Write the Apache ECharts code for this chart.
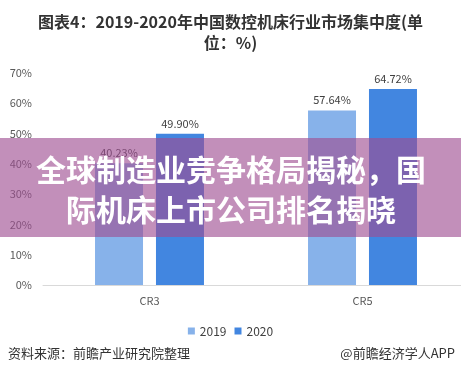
<!DOCTYPE html>
<html>
<head>
<meta charset="utf-8">
<script src="https://cdn.jsdelivr.net/npm/echarts@6/dist/echarts.min.js"></script>
<style>
  html, body { margin: 0; padding: 0; background: #fff; }
  #chart { width: 461px; height: 376px; }
</style>
</head>
<body>
<div id="chart"></div>
<script>
// ---- data ----
const categories = ["CR3", "CR5"];
const seriesNames = ["2019", "2020"];
const values2019 = [40.23, 57.64];
const values2020 = [49.90, 64.72];
const yTicks = [0, 10, 20, 30, 40, 50, 60, 70];

const FONT = "'Noto Sans CJK SC', 'Noto Sans', sans-serif";

document.addEventListener("DOMContentLoaded", () => {
  const chart = echarts.init(document.getElementById("chart"));

  const labelStyle = {
    show: true,
    position: "top",
    distance: 5,
    color: "#404040",
    fontSize: 11,
    fontFamily: FONT,
    formatter: p => p.value.toFixed(2) + "%"
  };

  const option = {
    animation: false,
    backgroundColor: "#fff",
    title: {
      text: "图表4：2019-2020年中国数控机床行业市场集中度(单\n位：%)",
      left: "center",
      top: 6,
      textStyle: {
        fontSize: 16,
        fontWeight: "bold",
        color: "#333",
        fontFamily: FONT,
        lineHeight: 21,
        align: "center"
      }
    },
    legend: {
      top: 320,
      left: "center",
      itemWidth: 7,
      itemHeight: 7,
      itemGap: 8,
      icon: "rect",
      textStyle: { color: "#404040", fontSize: 12, fontFamily: FONT },
      data: seriesNames
    },
    grid: { left: 43, right: -8, top: 73, bottom: 91, containLabel: false, outerBoundsMode: "none" },
    xAxis: {
      type: "category",
      data: categories,
      axisTick: { show: false },
      axisLine: { lineStyle: { color: "#d9d9d9" } },
      axisLabel: { color: "#595959", fontSize: 11, margin: 10, fontFamily: FONT }
    },
    yAxis: {
      type: "value",
      min: yTicks[0],
      max: yTicks[yTicks.length - 1],
      interval: 10,
      splitLine: { show: false },
      axisLine: { show: false },
      axisTick: { show: false },
      axisLabel: {
        color: "#595959",
        fontSize: 11,
        margin: 11,
        fontFamily: FONT,
        formatter: v => v + "%"
      }
    },
    series: [
      {
        name: seriesNames[0],
        type: "bar",
        data: values2019,
        barWidth: 48,
        barGap: "27%",
        itemStyle: { color: "#87b2ea" },
        label: labelStyle
      },
      {
        name: seriesNames[1],
        type: "bar",
        data: values2020,
        barWidth: 48,
        itemStyle: { color: "#4286e0" },
        label: labelStyle
      }
    ],
    graphic: [
      // overlay banner
      {
        type: "rect",
        z: 100,
        shape: { x: 0, y: 138, width: 461, height: 99 },
        style: { fill: "rgba(159,77,146,0.63)" }
      },
      {
        type: "text",
        z: 101,
        x: 231,
        y: 190,
        style: {
          text: "全球制造业竞争格局揭秘，国\n际机床上市公司排名揭晓",
          fill: "#fff",
          fontSize: 30,
          fontWeight: "bold",
          fontFamily: FONT,
          lineHeight: 40,
          align: "center",
          verticalAlign: "middle"
        }
      },
      // footer
      {
        type: "text",
        left: 8,
        top: 347,
        style: { text: "资料来源：前瞻产业研究院整理", fill: "#333", fontSize: 13, fontFamily: FONT }
      },
      {
        type: "text",
        right: 6,
        top: 347,
        style: { text: "@前瞻经济学人APP", fill: "#333", fontSize: 13, fontFamily: FONT }
      }
    ]
  };

  chart.setOption(option);
});
</script>
</body>
</html>
